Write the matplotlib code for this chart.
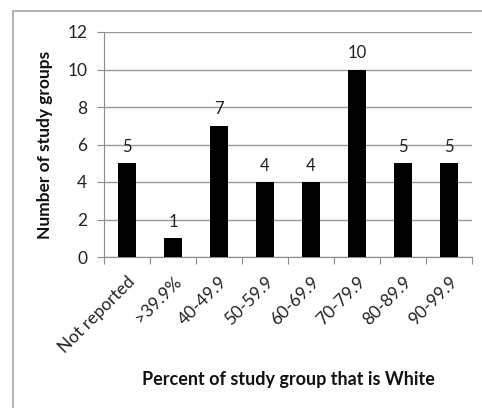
import matplotlib.pyplot as plt
from matplotlib.patches import Rectangle

categories = ['Not reported', '>39.9%', '40-49.9', '50-59.9', '60-69.9',
              '70-79.9', '80-89.9', '90-99.9']
counts = [5, 1, 7, 4, 4, 10, 5, 5]
yticks = [0, 2, 4, 6, 8, 10, 12]

plt.rcParams['font.family'] = ['Lato', 'DejaVu Sans']

fig = plt.figure(figsize=(4.82, 4.08), dpi=100)
W, H = 482, 408
ax = fig.add_axes([104 / W, 1 - 257 / H, (472 - 104) / W, (257 - 32) / H])

# outer chart frame
fig.patches.append(Rectangle((13 / W, -0.1), 1.2, 1 - 11 / H + 0.1,
                             transform=fig.transFigure, fill=False,
                             edgecolor='#a6a6a6', linewidth=1.2))

x = range(len(categories))
ax.bar(x, counts, width=0.4, color='black', zorder=3)
for xi, v in zip(x, counts):
    ax.text(xi, v + 0.45, str(v), ha='center', va='bottom', fontsize=12,
            color='#222222')

ax.set_xlim(-0.5, len(categories) - 0.5)
ax.set_ylim(0, 12)
ax.set_yticks(yticks)
ax.yaxis.grid(True, color='#9a9a9a', linewidth=1.0, zorder=0)
ax.set_xticks([i - 0.5 for i in range(len(categories) + 1)], minor=False)
ax.set_xticklabels([''] * (len(categories) + 1))
ax.set_xticks(list(x), minor=True)
ax.set_xticklabels(categories, minor=True, rotation=45, ha='right',
                   rotation_mode='anchor', fontsize=12.5, color='#222222')
ax.tick_params(axis='x', which='minor', length=0, pad=12)
ax.tick_params(axis='x', which='major', length=5, color='#8c8c8c',
               direction='out')
ax.tick_params(axis='y', length=5, color='#8c8c8c', direction='out',
               labelsize=12.5, pad=7, labelcolor='#222222')

for s in ['top', 'right']:
    ax.spines[s].set_visible(False)
ax.spines['left'].set_color('#8c8c8c')
ax.spines['bottom'].set_color('#8c8c8c')

fig.text(45 / W, 1 - 145 / H, 'Number of study groups', rotation=90,
         ha='center', va='center', fontsize=12.5, fontweight='bold',
         color='#111111')
fig.text(288 / W, 1 - 380 / H, 'Percent of study group that is White',
         ha='center', va='center', fontsize=13, fontweight='bold',
         color='#111111')

plt.savefig('out.png', dpi=100)
